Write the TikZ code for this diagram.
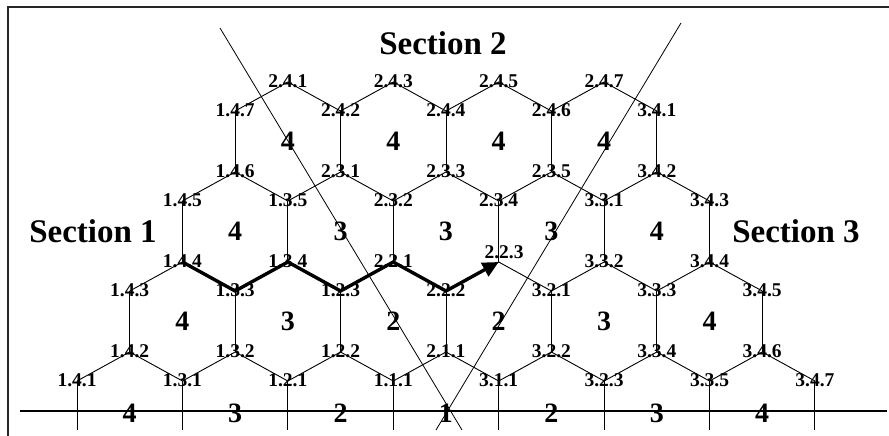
\documentclass[tikz,border=0pt]{standalone}
\usepackage{fontspec}
\setmainfont{Liberation Serif}
\usetikzlibrary{arrows.meta,calc}

\begin{document}
\begin{tikzpicture}[
  x=1pt, y=-1pt,
  edge/.style={line width=0.9pt},
  route/.style={line width=3.4pt, -{Triangle[length=16pt,width=15pt]}},
  frame/.style={line width=1.6pt, black!85},
  cut/.style={line width=0.8pt},
  vtx/.style={font=\bfseries\fontsize{19.5}{19.5}\selectfont, inner sep=0pt, yshift=1pt},
  cell/.style={font=\bfseries\fontsize{28}{28}\selectfont, inner sep=0pt},
  sect/.style={font=\bfseries\fontsize{33}{33}\selectfont, inner sep=0pt},
]
\useasboundingbox (0,0) rectangle (889,436);
\def\hx{52.71}

% ---- frame and base line ----
\coordinate (fr-ne) at (889,7);
\coordinate (fr-nw) at (8,7);
\coordinate (fr-sw) at (8,436);
\draw[frame] (fr-ne) -- (fr-nw) -- (fr-sw);
\coordinate (base-w) at (20,411);
\coordinate (base-e) at (887,411);
\draw[line width=1.1pt] (base-w) -- (base-e);

% ---- vertices, zigzag by zigzag ----
\foreach \lab [count=\k from 0] in {1.4.1,1.4.2,1.3.1,1.3.2,1.2.1,1.2.2,1.1.1,2.1.1,3.1.1,3.2.2,3.2.3,3.3.4,3.3.5,3.4.6,3.4.7}{
  \pgfmathsetmacro\xx{77+\hx*\k}
  \pgfmathsetmacro\yy{mod(\k,2)==1 ? 352 : 381}
  \coordinate (z0-\k) at (\xx,\yy);
  \coordinate (b-\k) at (\xx,430);
  \node[vtx] (l0-\k) at (z0-\k) {\lab};
}
\foreach \lab/\dy [count=\k from 1] in {1.4.3/0,1.4.4/0,1.3.3/0,1.3.4/0,1.2.3/0,2.2.1/0,2.2.2/0,2.2.3/9,3.2.1/0,3.3.2/0,3.3.3/0,3.4.4/0,3.4.5/0}{
  \pgfmathsetmacro\xx{77+\hx*\k}
  \pgfmathsetmacro\yy{mod(\k,2)==1 ? 291 : 262}
  \coordinate (z1-\k) at (\xx,\yy);
  \node[vtx, yshift=\dy pt, xshift=0.6*\dy pt] (l1-\k) at (z1-\k) {\lab};
}
\foreach \lab [count=\k from 2] in {1.4.5,1.4.6,1.3.5,2.3.1,2.3.2,2.3.3,2.3.4,2.3.5,3.3.1,3.4.2,3.4.3}{
  \pgfmathsetmacro\xx{77+\hx*\k}
  \pgfmathsetmacro\yy{mod(\k,2)==0 ? 201 : 172}
  \coordinate (z2-\k) at (\xx,\yy);
  \node[vtx] (l2-\k) at (z2-\k) {\lab};
}
\foreach \lab [count=\k from 3] in {1.4.7,2.4.1,2.4.2,2.4.3,2.4.4,2.4.5,2.4.6,2.4.7,3.4.1}{
  \pgfmathsetmacro\xx{77+\hx*\k}
  \pgfmathsetmacro\yy{mod(\k,2)==1 ? 111 : 82}
  \coordinate (z3-\k) at (\xx,\yy);
  \node[vtx] (l3-\k) at (z3-\k) {\lab};
}

% ---- hexagon edges ----
\draw[edge] (z0-0) \foreach \k in {1,...,14}{ -- (z0-\k)};
\draw[edge] (z1-1) \foreach \k in {2,...,13}{ -- (z1-\k)};
\draw[edge] (z2-2) \foreach \k in {3,...,12}{ -- (z2-\k)};
\draw[edge] (z3-3) \foreach \k in {4,...,11}{ -- (z3-\k)};
\foreach \k in {0,2,...,14} \draw[edge] (z0-\k) -- (b-\k);
\foreach \k in {1,3,...,13} \draw[edge] (z0-\k) -- (z1-\k);
\foreach \k in {2,4,...,12} \draw[edge] (z1-\k) -- (z2-\k);
\foreach \k in {3,5,...,11} \draw[edge] (z2-\k) -- (z3-\k);

% ---- ring numbers ----
\foreach \k/\n in {1/4,3/3,5/2,7/1,9/2,11/3,13/4}
  \node[cell] (c0-\k) at ($(z0-\k)+(0,61)$) {\n};
\foreach \k/\n in {2/4,4/3,6/2,8/2,10/3,12/4}
  \node[cell] (c1-\k) at ($(z0-\k)!0.5!(z1-\k)$) {\n};
\foreach \k/\n in {3/4,5/3,7/3,9/3,11/4}
  \node[cell] (c2-\k) at ($(z1-\k)!0.5!(z2-\k)$) {\n};
\foreach \k/\n in {4/4,6/4,8/4,10/4}
  \node[cell] (c3-\k) at ($(z2-\k)!0.5!(z3-\k)$) {\n};

% ---- section boundaries ----
\coordinate (cutL-t) at (220,28);
\coordinate (cutL-b) at (462,430);
\coordinate (cutR-t) at (681,23);
\coordinate (cutR-b) at (436,430);
\draw[cut] (cutL-t) -- (cutL-b);
\draw[cut] (cutR-t) -- (cutR-b);

\node[sect] (sec2) at (443,43) {Section 2};
\node[sect] (sec1) at (93,231) {Section 1};
\node[sect] (sec3) at (796,231) {Section 3};

% ---- route ----
\draw[route] (z1-2) -- (z1-3) -- (z1-4) -- (z1-5) -- (z1-6) -- (z1-7) -- (z1-8);
\end{tikzpicture}
\end{document}
